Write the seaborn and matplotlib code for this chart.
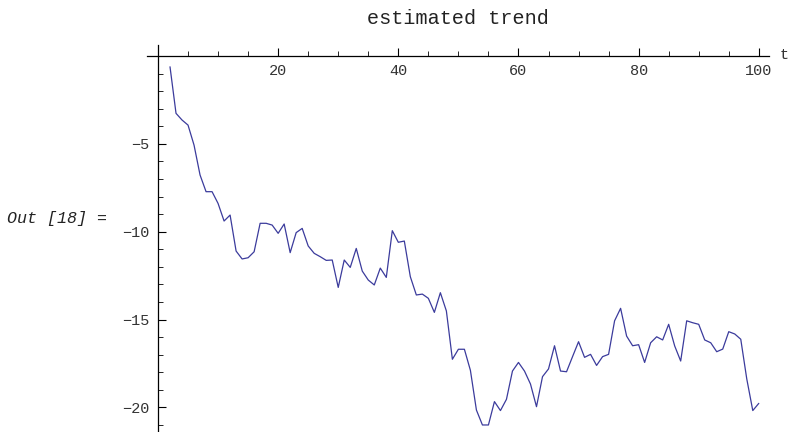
import seaborn as sns
import numpy as np
import pandas as pd
import matplotlib.pyplot as plt

# estimated trend (t = 2..100)
t = list(range(2, 101))
trend = [-0.61, -3.26, -3.64, -3.93, -5.07, -6.77, -7.72, -7.72, -8.39, -9.39,
         -9.05, -11.1, -11.55, -11.48, -11.14, -9.52, -9.52, -9.62, -10.09, -9.56,
         -11.19, -10.05, -9.81, -10.81, -11.23, -11.42, -11.63, -11.61, -13.17, -11.61,
         -12.03, -10.95, -12.24, -12.75, -13.03, -12.07, -12.6, -9.94, -10.6, -10.53,
         -12.56, -13.6, -13.55, -13.79, -14.59, -13.47, -14.51, -17.26, -16.69, -16.69,
         -17.89, -20.15, -21.0, -21.0, -19.67, -20.18, -19.54, -17.93, -17.44, -17.93,
         -18.67, -19.96, -18.25, -17.81, -16.49, -17.93, -17.97, -17.11, -16.26, -17.15,
         -16.98, -17.61, -17.11, -16.98, -15.07, -14.36, -15.94, -16.49, -16.43, -17.44,
         -16.32, -15.98, -16.16, -15.27, -16.5, -17.36, -15.07, -15.18, -15.27, -16.16,
         -16.32, -16.83, -16.68, -15.69, -15.82, -16.12, -18.38, -20.18, -19.77]
xticks = [20, 40, 60, 80, 100]
yticks = [-5, -10, -15, -20]
ytick_labels = ['\u22125', '\u221210', '\u221215', '\u221220']

df = pd.DataFrame({'t': t, 'trend': trend})

sns.set_style('white')
plt.rcParams['font.family'] = ['Liberation Mono', 'DejaVu Sans']

fig = plt.figure(figsize=(7.91, 4.32), dpi=100)
ax = fig.add_axes([147 / 791, 0.0, 622 / 791, 1 - 45 / 432])

sns.lineplot(data=df, x='t', y='trend', color='#3b3b9c', linewidth=0.9, ax=ax)

ax.set_xlim(-1.83, 101.7)
ax.set_ylim(-21.4, 0.63)

# mathematica-style axes crossing at the origin
for s in ['top', 'right']:
    ax.spines[s].set_visible(False)
ax.spines['left'].set_position(('data', 0))
ax.spines['bottom'].set_position(('data', 0))
for s in ['left', 'bottom']:
    ax.spines[s].set_linewidth(0.9)
    ax.spines[s].set_color('black')

ax.set_xticks(xticks)
ax.set_xticklabels([str(v) for v in xticks])
ax.set_xticks([v for v in range(5, 101, 5) if v not in xticks], minor=True)
ax.set_yticks(yticks)
ax.set_yticklabels(ytick_labels)
ax.set_yticks([v for v in range(-1, -22, -1) if v not in yticks], minor=True)
ax.tick_params(which='both', bottom=True, left=True, direction='in', color='black')
ax.tick_params(which='major', length=6, width=0.8, labelsize=11, labelcolor='#333333')
ax.tick_params(axis='x', which='major', pad=6)
ax.tick_params(axis='y', which='major', pad=6)
ax.tick_params(which='minor', length=3.5, width=0.6)
ax.set_xlabel('')
ax.set_ylabel('')

fig.text(458 / 791, 1 - 19 / 432, 'estimated trend', ha='center', va='center',
         fontsize=14.5, color='#222222')
fig.text(780 / 791, 1 - 55 / 432, 't', ha='left', va='center', fontsize=11, color='#333333')
fig.text(7 / 791, 1 - 218 / 432, 'Out [18] =', ha='left', va='center', fontsize=12,
         style='italic', color='#222222')

plt.savefig('out.png', dpi=100)
